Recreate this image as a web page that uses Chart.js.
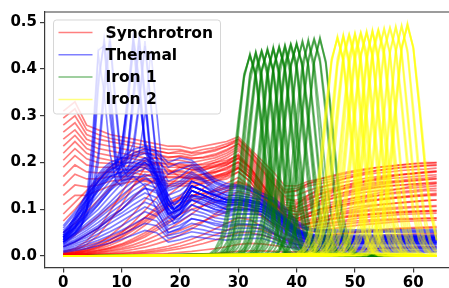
<!DOCTYPE html>
<html><head><meta charset="utf-8">
<script src="https://cdn.jsdelivr.net/npm/chart.js@4.4.1/dist/chart.umd.min.js"></script>
<style>html,body{margin:0;padding:0;background:#fff;overflow:hidden}</style>
</head><body>
<canvas id="c" width="449" height="288" style="display:block;width:449px;height:288px"></canvas>
<script>
const seriesNames = ['Synchrotron', 'Thermal', 'Iron 1', 'Iron 2'];
const xTickValues = [0, 10, 20, 30, 40, 50, 60];
const yTickValues = [0, 0.1, 0.2, 0.3, 0.4, 0.5];
const gridX = [0,2,4,6,8,10,12,14,16,18,20,22,24,26,28,30,32,34,36,38,40,42,44,46,48,50,52,54,56,58,60,62,64];
const spikeX = [0,1,2,3,4,5,6,7,8,9,10,11,12,13,14,15,16,17,18,19,20,22,24,26,28,30,32,34,36,38,40,42,44,46,48,50,52,54,56,58,60,62,64];

const synchrotronLines = [
 [0.31,0.33,0.28,0.27,0.26,0.255,0.25,0.245,0.24,0.235,0.235,0.23,0.235,0.24,0.245,0.255,0.23,0.205,0.18,0.15,0.15,0.16,0.165,0.17,0.175,0.18,0.185,0.19,0.192,0.195,0.198,0.2,0.2],
 [0.295,0.315,0.27,0.26,0.252,0.247,0.242,0.237,0.232,0.228,0.228,0.222,0.228,0.232,0.24,0.25,0.225,0.198,0.17,0.142,0.145,0.155,0.16,0.165,0.17,0.175,0.18,0.184,0.186,0.189,0.191,0.193,0.194],
 [0.28,0.3,0.26,0.25,0.245,0.24,0.235,0.23,0.225,0.22,0.22,0.215,0.22,0.225,0.235,0.245,0.22,0.19,0.16,0.135,0.14,0.15,0.155,0.16,0.165,0.17,0.175,0.178,0.18,0.183,0.185,0.186,0.188],
 [0.265,0.285,0.25,0.24,0.235,0.23,0.225,0.22,0.218,0.212,0.212,0.208,0.212,0.218,0.228,0.24,0.215,0.185,0.155,0.128,0.13,0.14,0.148,0.152,0.158,0.162,0.167,0.17,0.173,0.175,0.177,0.179,0.181],
 [0.25,0.27,0.24,0.23,0.225,0.22,0.215,0.21,0.21,0.205,0.205,0.2,0.205,0.21,0.22,0.235,0.21,0.18,0.15,0.12,0.12,0.13,0.14,0.145,0.15,0.155,0.16,0.163,0.166,0.168,0.17,0.172,0.174],
 [0.235,0.258,0.23,0.22,0.215,0.21,0.208,0.203,0.2,0.198,0.198,0.193,0.198,0.205,0.215,0.23,0.205,0.175,0.145,0.115,0.112,0.122,0.132,0.138,0.143,0.148,0.152,0.155,0.158,0.16,0.162,0.164,0.166],
 [0.22,0.245,0.22,0.21,0.205,0.2,0.2,0.195,0.195,0.19,0.19,0.185,0.19,0.2,0.21,0.225,0.2,0.17,0.14,0.11,0.105,0.115,0.125,0.13,0.135,0.14,0.145,0.148,0.15,0.152,0.154,0.156,0.158],
 [0.205,0.23,0.208,0.2,0.198,0.193,0.192,0.188,0.187,0.183,0.183,0.178,0.183,0.192,0.202,0.218,0.195,0.165,0.135,0.105,0.1,0.108,0.118,0.123,0.128,0.133,0.137,0.14,0.142,0.144,0.146,0.148,0.15],
 [0.19,0.215,0.195,0.19,0.19,0.185,0.185,0.18,0.18,0.175,0.175,0.17,0.175,0.185,0.195,0.21,0.19,0.16,0.13,0.1,0.095,0.1,0.11,0.115,0.12,0.125,0.128,0.13,0.133,0.135,0.137,0.14,0.14],
 [0.17,0.195,0.18,0.178,0.18,0.178,0.178,0.173,0.172,0.168,0.168,0.165,0.17,0.178,0.188,0.202,0.182,0.152,0.122,0.095,0.088,0.093,0.1,0.105,0.11,0.115,0.118,0.12,0.123,0.125,0.127,0.129,0.13],
 [0.15,0.175,0.165,0.165,0.17,0.17,0.17,0.165,0.165,0.16,0.16,0.16,0.165,0.17,0.18,0.195,0.175,0.145,0.115,0.09,0.08,0.085,0.09,0.095,0.1,0.105,0.108,0.11,0.112,0.114,0.116,0.118,0.12],
 [0.13,0.152,0.148,0.152,0.16,0.163,0.165,0.162,0.16,0.155,0.155,0.155,0.16,0.165,0.172,0.188,0.168,0.138,0.108,0.084,0.074,0.078,0.083,0.088,0.092,0.096,0.099,0.101,0.103,0.105,0.106,0.107,0.108],
 [0.11,0.13,0.13,0.14,0.15,0.155,0.16,0.16,0.155,0.15,0.15,0.15,0.155,0.16,0.165,0.18,0.16,0.13,0.1,0.078,0.068,0.07,0.075,0.08,0.083,0.086,0.088,0.09,0.092,0.094,0.095,0.096,0.097],
 [0.09,0.115,0.14,0.165,0.19,0.205,0.22,0.228,0.225,0.22,0.225,0.22,0.222,0.228,0.235,0.25,0.225,0.195,0.165,0.138,0.14,0.155,0.165,0.172,0.178,0.183,0.187,0.19,0.193,0.195,0.197,0.198,0.2],
 [0.075,0.1,0.13,0.16,0.185,0.2,0.215,0.22,0.215,0.21,0.215,0.21,0.21,0.215,0.225,0.24,0.215,0.185,0.155,0.125,0.115,0.125,0.135,0.14,0.145,0.15,0.155,0.158,0.16,0.162,0.165,0.167,0.17],
 [0.05,0.07,0.095,0.12,0.145,0.165,0.185,0.195,0.2,0.195,0.195,0.19,0.19,0.195,0.2,0.215,0.19,0.155,0.12,0.09,0.08,0.09,0.1,0.105,0.11,0.115,0.12,0.122,0.125,0.127,0.13,0.132,0.134],
 [0.03,0.045,0.065,0.085,0.105,0.125,0.15,0.17,0.18,0.18,0.18,0.175,0.175,0.18,0.185,0.2,0.175,0.14,0.105,0.075,0.065,0.07,0.075,0.08,0.085,0.088,0.09,0.092,0.094,0.095,0.096,0.097,0.098],
 [0.02,0.03,0.045,0.06,0.08,0.1,0.125,0.15,0.165,0.17,0.17,0.168,0.168,0.172,0.178,0.19,0.168,0.132,0.098,0.07,0.06,0.062,0.066,0.07,0.073,0.075,0.077,0.078,0.079,0.08,0.08,0.081,0.081],
 [0.008,0.016,0.032,0.058,0.095,0.135,0.175,0.205,0.21,0.2,0.19,0.185,0.185,0.19,0.195,0.21,0.188,0.155,0.125,0.1,0.095,0.11,0.125,0.135,0.145,0.153,0.16,0.165,0.17,0.174,0.177,0.18,0.182],
 [0.006,0.012,0.025,0.045,0.075,0.11,0.15,0.19,0.2,0.185,0.17,0.165,0.165,0.17,0.175,0.19,0.17,0.14,0.11,0.085,0.075,0.085,0.095,0.105,0.115,0.12,0.125,0.13,0.135,0.138,0.14,0.143,0.145],
 [0.005,0.009,0.016,0.027,0.043,0.064,0.09,0.12,0.15,0.175,0.19,0.195,0.195,0.2,0.205,0.215,0.19,0.155,0.12,0.09,0.08,0.09,0.1,0.11,0.118,0.125,0.13,0.135,0.14,0.145,0.15,0.152,0.155],
 [0.004,0.008,0.013,0.021,0.034,0.05,0.072,0.098,0.125,0.15,0.17,0.182,0.188,0.192,0.198,0.208,0.185,0.15,0.115,0.085,0.076,0.084,0.092,0.1,0.106,0.112,0.116,0.12,0.123,0.126,0.128,0.13,0.132],
 [0.004,0.007,0.011,0.018,0.028,0.042,0.06,0.082,0.105,0.13,0.15,0.165,0.175,0.18,0.19,0.2,0.18,0.145,0.11,0.08,0.07,0.075,0.08,0.085,0.09,0.093,0.096,0.098,0.1,0.102,0.104,0.105,0.106],
 [0.003,0.006,0.01,0.015,0.023,0.034,0.048,0.066,0.086,0.108,0.128,0.145,0.158,0.167,0.175,0.188,0.168,0.135,0.102,0.074,0.064,0.068,0.073,0.078,0.082,0.085,0.088,0.09,0.092,0.093,0.094,0.095,0.096],
 [0.003,0.005,0.008,0.012,0.018,0.026,0.037,0.05,0.066,0.084,0.104,0.125,0.145,0.16,0.17,0.18,0.16,0.125,0.095,0.068,0.058,0.062,0.068,0.072,0.076,0.08,0.083,0.085,0.087,0.089,0.09,0.091,0.092],
 [0.002,0.004,0.006,0.01,0.015,0.021,0.03,0.041,0.055,0.07,0.088,0.108,0.126,0.143,0.156,0.168,0.15,0.118,0.088,0.064,0.054,0.057,0.061,0.065,0.068,0.071,0.073,0.075,0.077,0.078,0.079,0.08,0.081],
 [0.002,0.003,0.005,0.008,0.012,0.017,0.024,0.033,0.044,0.057,0.073,0.09,0.108,0.125,0.14,0.155,0.14,0.11,0.082,0.058,0.048,0.05,0.054,0.058,0.062,0.065,0.068,0.07,0.072,0.074,0.075,0.076,0.077],
 [0.002,0.003,0.004,0.005,0.007,0.01,0.014,0.019,0.026,0.034,0.045,0.058,0.073,0.09,0.106,0.12,0.11,0.088,0.066,0.047,0.038,0.04,0.043,0.046,0.049,0.052,0.054,0.056,0.058,0.06,0.061,0.062,0.063],
 [0.001,0.002,0.003,0.004,0.005,0.007,0.009,0.012,0.016,0.021,0.028,0.036,0.046,0.058,0.07,0.082,0.078,0.064,0.05,0.036,0.03,0.032,0.034,0.036,0.038,0.04,0.042,0.044,0.045,0.046,0.047,0.048,0.049],
 [0.001,0.001,0.002,0.003,0.004,0.005,0.007,0.009,0.012,0.016,0.021,0.028,0.036,0.045,0.055,0.066,0.064,0.056,0.047,0.038,0.034,0.037,0.041,0.044,0.047,0.05,0.052,0.054,0.056,0.058,0.059,0.06,0.061],
 [0.001,0.001,0.002,0.002,0.003,0.004,0.005,0.007,0.009,0.012,0.016,0.021,0.027,0.034,0.042,0.05,0.05,0.045,0.038,0.03,0.025,0.027,0.03,0.032,0.034,0.036,0.038,0.04,0.041,0.042,0.043,0.044,0.045],
 [0.001,0.001,0.001,0.001,0.002,0.002,0.003,0.004,0.005,0.006,0.008,0.01,0.013,0.016,0.02,0.025,0.027,0.026,0.023,0.02,0.018,0.019,0.021,0.023,0.025,0.027,0.028,0.03,0.031,0.032,0.033,0.034,0.035],
 [0,0,0.001,0.001,0.001,0.001,0.002,0.002,0.002,0.003,0.003,0.004,0.005,0.006,0.008,0.01,0.011,0.011,0.01,0.009,0.009,0.01,0.011,0.012,0.013,0.014,0.015,0.016,0.017,0.018,0.019,0.02,0.02],
 [0.01,0.015,0.022,0.03,0.04,0.052,0.066,0.082,0.1,0.115,0.125,0.13,0.135,0.14,0.148,0.16,0.15,0.13,0.11,0.1,0.11,0.13,0.145,0.155,0.165,0.172,0.178,0.183,0.187,0.19,0.192,0.194,0.195],
 [0.006,0.01,0.016,0.024,0.034,0.046,0.06,0.076,0.094,0.11,0.122,0.128,0.133,0.138,0.145,0.158,0.148,0.128,0.108,0.095,0.105,0.12,0.132,0.142,0.15,0.157,0.162,0.167,0.171,0.174,0.176,0.178,0.18],
 [0.004,0.007,0.012,0.019,0.028,0.04,0.055,0.072,0.09,0.105,0.115,0.12,0.125,0.13,0.138,0.15,0.14,0.12,0.1,0.085,0.09,0.105,0.118,0.128,0.136,0.143,0.148,0.152,0.156,0.159,0.161,0.163,0.165],
 [0.003,0.005,0.008,0.012,0.017,0.024,0.033,0.045,0.06,0.075,0.09,0.1,0.108,0.115,0.125,0.138,0.13,0.112,0.094,0.08,0.085,0.1,0.113,0.123,0.131,0.138,0.143,0.147,0.15,0.152,0.154,0.155,0.156],
 [0.002,0.003,0.005,0.007,0.01,0.014,0.019,0.026,0.035,0.045,0.055,0.065,0.075,0.085,0.095,0.105,0.1,0.085,0.07,0.058,0.06,0.07,0.08,0.088,0.095,0.1,0.105,0.109,0.112,0.115,0.117,0.119,0.12]
];

const thermalLines = [
 [0.065,0.095,0.13,0.16,0.19,0.21,0.228,0.235,0.225,0.2,0.21,0.205,0.185,0.165,0.155,0.152,0.148,0.135,0.125,0.105,0.075,0.06,0.056,0.056,0.057,0.056,0.057,0.056,0.057,0.056,0.057,0.056,0.057],
 [0.06,0.09,0.12,0.15,0.18,0.2,0.22,0.23,0.22,0.19,0.2,0.2,0.18,0.16,0.15,0.15,0.145,0.13,0.12,0.1,0.07,0.058,0.055,0.055,0.054,0.055,0.054,0.055,0.054,0.055,0.054,0.055,0.054],
 [0.055,0.08,0.11,0.14,0.17,0.195,0.215,0.225,0.21,0.175,0.185,0.195,0.178,0.158,0.148,0.148,0.142,0.128,0.118,0.095,0.068,0.056,0.052,0.052,0.053,0.052,0.053,0.052,0.053,0.052,0.053,0.052,0.053],
 [0.05,0.07,0.1,0.13,0.16,0.19,0.21,0.22,0.2,0.16,0.17,0.19,0.175,0.155,0.145,0.145,0.14,0.13,0.115,0.09,0.065,0.055,0.05,0.05,0.052,0.05,0.051,0.05,0.052,0.05,0.051,0.05,0.05],
 [0.045,0.065,0.09,0.12,0.15,0.18,0.2,0.21,0.195,0.15,0.16,0.18,0.165,0.15,0.14,0.14,0.135,0.125,0.105,0.085,0.06,0.048,0.045,0.045,0.046,0.045,0.046,0.045,0.046,0.045,0.046,0.045,0.046],
 [0.042,0.062,0.088,0.115,0.145,0.175,0.195,0.205,0.19,0.145,0.155,0.175,0.162,0.145,0.135,0.135,0.13,0.122,0.102,0.082,0.058,0.047,0.044,0.043,0.044,0.043,0.044,0.043,0.044,0.043,0.044,0.043,0.044],
 [0.04,0.06,0.085,0.11,0.14,0.17,0.19,0.2,0.185,0.14,0.15,0.17,0.16,0.14,0.13,0.13,0.125,0.12,0.1,0.08,0.055,0.045,0.042,0.04,0.041,0.042,0.04,0.041,0.04,0.042,0.041,0.04,0.04],
 [0.038,0.055,0.078,0.1,0.128,0.155,0.175,0.188,0.175,0.13,0.14,0.16,0.15,0.132,0.122,0.125,0.12,0.115,0.095,0.075,0.052,0.042,0.038,0.037,0.038,0.037,0.038,0.037,0.038,0.037,0.038,0.037,0.038],
 [0.035,0.05,0.07,0.09,0.115,0.14,0.16,0.175,0.165,0.12,0.13,0.15,0.14,0.125,0.115,0.12,0.115,0.11,0.09,0.07,0.05,0.04,0.036,0.035,0.034,0.035,0.034,0.035,0.034,0.035,0.034,0.035,0.034],
 [0.032,0.048,0.065,0.085,0.108,0.13,0.15,0.165,0.155,0.11,0.12,0.14,0.13,0.118,0.108,0.112,0.108,0.105,0.085,0.065,0.046,0.037,0.033,0.032,0.033,0.032,0.033,0.032,0.033,0.032,0.033,0.032,0.033],
 [0.03,0.045,0.06,0.08,0.1,0.12,0.14,0.155,0.145,0.1,0.11,0.13,0.12,0.11,0.1,0.105,0.1,0.1,0.08,0.06,0.042,0.034,0.03,0.03,0.03,0.031,0.03,0.03,0.031,0.03,0.03,0.031,0.03],
 [0.03,0.05,0.08,0.11,0.14,0.16,0.17,0.15,0.1,0.05,0.06,0.08,0.075,0.07,0.065,0.07,0.068,0.065,0.05,0.035,0.025,0.02,0.018,0.018,0.017,0.018,0.017,0.018,0.017,0.018,0.017,0.018,0.017],
 [0.028,0.04,0.055,0.072,0.092,0.11,0.13,0.145,0.135,0.09,0.1,0.12,0.11,0.1,0.092,0.098,0.095,0.095,0.075,0.055,0.038,0.031,0.027,0.027,0.028,0.027,0.028,0.027,0.028,0.027,0.028,0.027,0.028],
 [0.025,0.035,0.05,0.065,0.085,0.1,0.12,0.135,0.125,0.08,0.09,0.11,0.1,0.09,0.085,0.09,0.09,0.09,0.07,0.05,0.035,0.028,0.025,0.025,0.026,0.025,0.025,0.026,0.025,0.025,0.026,0.025,0.025],
 [0.022,0.032,0.045,0.06,0.078,0.092,0.11,0.125,0.115,0.072,0.082,0.1,0.092,0.082,0.078,0.082,0.082,0.082,0.065,0.046,0.033,0.026,0.022,0.022,0.023,0.022,0.023,0.022,0.023,0.022,0.023,0.022,0.023],
 [0.02,0.03,0.045,0.06,0.08,0.1,0.125,0.145,0.14,0.09,0.1,0.12,0.11,0.1,0.095,0.1,0.098,0.095,0.075,0.055,0.038,0.03,0.027,0.027,0.028,0.027,0.028,0.027,0.028,0.027,0.028,0.027,0.028],
 [0.02,0.03,0.04,0.055,0.07,0.085,0.1,0.115,0.105,0.065,0.075,0.09,0.085,0.075,0.07,0.075,0.075,0.075,0.06,0.042,0.03,0.024,0.02,0.02,0.021,0.02,0.02,0.021,0.02,0.02,0.021,0.02,0.02],
 [0.018,0.026,0.035,0.048,0.06,0.075,0.09,0.105,0.095,0.058,0.066,0.08,0.075,0.066,0.062,0.067,0.067,0.067,0.054,0.038,0.027,0.021,0.017,0.017,0.018,0.017,0.018,0.017,0.018,0.017,0.018,0.017,0.018],
 [0.015,0.022,0.03,0.04,0.052,0.065,0.08,0.095,0.085,0.05,0.058,0.07,0.065,0.058,0.055,0.06,0.06,0.06,0.048,0.034,0.024,0.018,0.015,0.015,0.016,0.015,0.015,0.016,0.015,0.015,0.016,0.015,0.015],
 [0.012,0.018,0.025,0.034,0.044,0.055,0.068,0.082,0.075,0.044,0.05,0.06,0.056,0.05,0.048,0.052,0.053,0.053,0.042,0.03,0.021,0.015,0.013,0.012,0.013,0.012,0.013,0.012,0.013,0.012,0.013,0.012,0.013],
 [0.01,0.015,0.02,0.028,0.036,0.046,0.058,0.07,0.065,0.038,0.044,0.052,0.048,0.044,0.042,0.045,0.046,0.046,0.037,0.026,0.018,0.013,0.011,0.01,0.011,0.01,0.01,0.011,0.01,0.01,0.011,0.01,0.01],
 [0.008,0.012,0.016,0.022,0.028,0.036,0.045,0.055,0.05,0.03,0.035,0.042,0.039,0.036,0.034,0.037,0.038,0.038,0.03,0.021,0.015,0.011,0.009,0.008,0.009,0.008,0.009,0.008,0.009,0.008,0.009,0.008,0.009]
];

const thermalSpikeLines = [
 [0.03,0.04,0.05,0.065,0.09,0.17,0.36,0.465,0.37,0.22,0.17,0.18,0.19,0.2,0.2,0.19,0.175,0.15,0.12,0.1,0.11, 0.15,0.14,0.13,0.12,0.12,0.12,0.11,0.1,0.08,0.055,0.045,0.04,0.04,0.041,0.04,0.041,0.04,0.041,0.04,0.041,0.04,0.04],
 [0.04,0.05,0.06,0.08,0.12,0.25,0.44,0.45,0.3,0.19,0.16,0.17,0.18,0.19,0.19,0.18,0.16,0.13,0.1,0.08,0.09, 0.13,0.125,0.115,0.105,0.11,0.105,0.1,0.085,0.065,0.045,0.036,0.032,0.032,0.033,0.032,0.033,0.032,0.033,0.032,0.033,0.032,0.032],
 [0.035,0.045,0.06,0.075,0.1,0.14,0.22,0.37,0.47,0.33,0.2,0.18,0.19,0.2,0.21,0.2,0.18,0.16,0.13,0.11,0.12, 0.16,0.15,0.135,0.125,0.125,0.12,0.115,0.1,0.082,0.058,0.046,0.043,0.042,0.043,0.042,0.043,0.042,0.043,0.042,0.043,0.042,0.042],
 [0.025,0.035,0.045,0.06,0.1,0.22,0.43,0.35,0.22,0.16,0.15,0.16,0.17,0.17,0.17,0.16,0.14,0.11,0.085,0.07,0.08, 0.11,0.1,0.095,0.09,0.09,0.09,0.088,0.07,0.052,0.036,0.028,0.026,0.026,0.027,0.026,0.027,0.026,0.027,0.026,0.027,0.026,0.026],
 [0.035,0.045,0.055,0.07,0.1,0.2,0.38,0.455,0.33,0.2,0.165,0.175,0.185,0.195,0.195,0.185,0.17,0.14,0.11,0.095,0.1, 0.14,0.13,0.12,0.115,0.115,0.115,0.105,0.095,0.076,0.052,0.043,0.039,0.038,0.039,0.038,0.039,0.038,0.039,0.038,0.039,0.038,0.038],
 [0.03,0.04,0.05,0.065,0.085,0.12,0.2,0.34,0.46,0.31,0.19,0.17,0.18,0.19,0.2,0.19,0.17,0.15,0.12,0.1,0.11, 0.15,0.14,0.13,0.12,0.12,0.115,0.11,0.095,0.078,0.054,0.044,0.04,0.04,0.041,0.04,0.041,0.04,0.041,0.04,0.041,0.04,0.04],
 [0.04,0.055,0.075,0.095,0.115,0.135,0.155,0.17,0.18,0.19,0.22,0.33,0.47,0.38,0.25,0.2,0.17,0.13,0.1,0.09,0.1, 0.14,0.13,0.12,0.115,0.115,0.11,0.105,0.09,0.072,0.05,0.04,0.037,0.036,0.037,0.036,0.037,0.036,0.037,0.036,0.037,0.036,0.036],
 [0.045,0.06,0.08,0.1,0.125,0.145,0.165,0.18,0.19,0.2,0.2,0.23,0.34,0.465,0.35,0.22,0.18,0.14,0.11,0.1,0.11, 0.15,0.14,0.13,0.12,0.12,0.12,0.11,0.095,0.076,0.052,0.042,0.039,0.038,0.039,0.038,0.039,0.038,0.039,0.038,0.039,0.038,0.038],
 [0.035,0.05,0.065,0.085,0.105,0.125,0.145,0.16,0.17,0.175,0.18,0.21,0.32,0.45,0.33,0.2,0.16,0.12,0.09,0.08,0.09, 0.125,0.12,0.11,0.1,0.1,0.1,0.095,0.08,0.062,0.043,0.034,0.031,0.03,0.031,0.03,0.031,0.03,0.031,0.03,0.031,0.03,0.03],
 [0.05,0.065,0.085,0.11,0.135,0.155,0.175,0.19,0.2,0.205,0.21,0.21,0.24,0.33,0.46,0.33,0.21,0.16,0.12,0.11,0.12, 0.16,0.15,0.14,0.13,0.13,0.125,0.12,0.1,0.08,0.056,0.045,0.042,0.041,0.042,0.041,0.042,0.041,0.042,0.041,0.042,0.041,0.041],
 [0.03,0.045,0.06,0.08,0.1,0.12,0.14,0.155,0.165,0.17,0.2,0.31,0.455,0.36,0.23,0.18,0.15,0.115,0.09,0.08,0.09, 0.12,0.115,0.105,0.1,0.1,0.1,0.095,0.08,0.062,0.043,0.034,0.031,0.03,0.031,0.03,0.031,0.03,0.031,0.03,0.031,0.03,0.03],
 [0.04,0.055,0.075,0.095,0.12,0.14,0.16,0.175,0.185,0.19,0.195,0.2,0.2,0.22,0.3,0.44,0.31,0.18,0.12,0.1,0.11, 0.15,0.14,0.13,0.12,0.12,0.115,0.11,0.095,0.075,0.052,0.042,0.038,0.037,0.038,0.037,0.038,0.037,0.038,0.037,0.038,0.037,0.037],
 [0.045,0.06,0.08,0.1,0.12,0.14,0.16,0.175,0.185,0.195,0.23,0.34,0.465,0.37,0.24,0.19,0.16,0.125,0.095,0.085,0.095, 0.13,0.125,0.115,0.11,0.11,0.105,0.1,0.085,0.068,0.047,0.038,0.035,0.034,0.035,0.034,0.035,0.034,0.035,0.034,0.035,0.034,0.034],
 [0.04,0.055,0.07,0.09,0.11,0.13,0.15,0.165,0.175,0.185,0.19,0.22,0.35,0.47,0.34,0.21,0.17,0.13,0.1,0.09,0.1, 0.14,0.13,0.12,0.115,0.115,0.11,0.105,0.09,0.07,0.05,0.04,0.037,0.036,0.037,0.036,0.037,0.036,0.037,0.036,0.037,0.036,0.036],
 [0.035,0.05,0.065,0.085,0.105,0.125,0.145,0.16,0.17,0.175,0.18,0.185,0.22,0.32,0.45,0.32,0.2,0.15,0.11,0.095,0.105, 0.14,0.13,0.12,0.11,0.11,0.108,0.1,0.088,0.07,0.048,0.039,0.036,0.035,0.036,0.035,0.036,0.035,0.036,0.035,0.036,0.035,0.035],
 [0.05,0.065,0.085,0.105,0.13,0.15,0.17,0.185,0.195,0.2,0.24,0.32,0.44,0.34,0.24,0.2,0.175,0.14,0.11,0.1,0.11, 0.15,0.14,0.13,0.12,0.12,0.118,0.112,0.096,0.078,0.054,0.044,0.041,0.04,0.041,0.04,0.041,0.04,0.041,0.04,0.041,0.04,0.04]
];

// [first x of the peak segment, values at consecutive integer x]; zero elsewhere
const ironOneLines = [
 [25,[0.001,0.005,0.019,0.058,0.14,0.262,0.381,0.432,0.381,0.262,0.14,0.058,0.019,0.005,0.001]],
 [25,[0.004,0.014,0.04,0.094,0.183,0.293,0.39,0.428,0.39,0.293,0.183,0.094,0.04,0.014,0.004]],
 [25,[0.002,0.009,0.029,0.076,0.163,0.279,0.386,0.43,0.386,0.279,0.163,0.076,0.029,0.009,0.002]],
 [26,[0.001,0.005,0.019,0.059,0.142,0.265,0.386,0.437,0.386,0.265,0.142,0.059,0.019,0.005,0.001]],
 [26,[0,0.002,0.009,0.037,0.108,0.233,0.371,0.433,0.371,0.233,0.108,0.037,0.009,0.002,0]],
 [26,[0.002,0.009,0.029,0.077,0.164,0.282,0.39,0.434,0.39,0.282,0.164,0.077,0.029,0.009,0.002]],
 [27,[0.004,0.015,0.041,0.097,0.188,0.301,0.4,0.44,0.4,0.301,0.188,0.097,0.041,0.015,0.004]],
 [27,[0.001,0.005,0.019,0.059,0.142,0.264,0.385,0.436,0.385,0.264,0.142,0.059,0.019,0.005,0.001]],
 [27,[0.002,0.009,0.029,0.078,0.166,0.284,0.393,0.438,0.393,0.284,0.166,0.078,0.029,0.009,0.002]],
 [28,[0.001,0.005,0.019,0.06,0.144,0.269,0.392,0.444,0.392,0.269,0.144,0.06,0.019,0.005,0.001]],
 [28,[0.004,0.014,0.041,0.097,0.187,0.301,0.4,0.439,0.4,0.301,0.187,0.097,0.041,0.014,0.004]],
 [28,[0.002,0.009,0.03,0.078,0.167,0.286,0.396,0.441,0.396,0.286,0.167,0.078,0.03,0.009,0.002]],
 [29,[0,0.002,0.009,0.038,0.111,0.241,0.383,0.447,0.383,0.241,0.111,0.038,0.009,0.002,0]],
 [29,[0.001,0.005,0.019,0.06,0.144,0.269,0.391,0.443,0.391,0.269,0.144,0.06,0.019,0.005,0.001]],
 [29,[0.002,0.009,0.03,0.079,0.168,0.288,0.399,0.444,0.399,0.288,0.168,0.079,0.03,0.009,0.002]],
 [30,[0.001,0.005,0.02,0.061,0.146,0.272,0.396,0.449,0.396,0.272,0.146,0.061,0.02,0.005,0.001]],
 [30,[0.004,0.015,0.042,0.098,0.19,0.305,0.405,0.445,0.405,0.305,0.19,0.098,0.042,0.015,0.004]],
 [30,[0.002,0.009,0.03,0.079,0.169,0.289,0.4,0.446,0.4,0.289,0.169,0.079,0.03,0.009,0.002]],
 [31,[0.001,0.005,0.02,0.061,0.146,0.274,0.398,0.451,0.398,0.274,0.146,0.061,0.02,0.005,0.001]],
 [31,[0,0.002,0.009,0.038,0.111,0.24,0.382,0.446,0.382,0.24,0.111,0.038,0.009,0.002,0]],
 [31,[0.002,0.009,0.03,0.079,0.17,0.291,0.403,0.449,0.403,0.291,0.17,0.079,0.03,0.009,0.002]],
 [32,[0.004,0.015,0.043,0.1,0.194,0.311,0.413,0.454,0.413,0.311,0.194,0.1,0.043,0.015,0.004]],
 [32,[0.001,0.005,0.02,0.061,0.146,0.273,0.397,0.45,0.397,0.273,0.146,0.061,0.02,0.005,0.001]],
 [32,[0.002,0.009,0.03,0.08,0.171,0.293,0.406,0.452,0.406,0.293,0.171,0.08,0.03,0.009,0.002]],
 [33,[0.001,0.005,0.02,0.062,0.148,0.277,0.402,0.456,0.402,0.277,0.148,0.062,0.02,0.005,0.001]],
 [33,[0.004,0.015,0.042,0.099,0.193,0.31,0.411,0.452,0.411,0.31,0.193,0.099,0.042,0.015,0.004]],
 [33,[0.002,0.009,0.03,0.08,0.172,0.295,0.408,0.454,0.408,0.295,0.172,0.08,0.03,0.009,0.002]],
 [34,[0.001,0.005,0.02,0.062,0.149,0.279,0.406,0.46,0.406,0.279,0.149,0.062,0.02,0.005,0.001]],
 [34,[0.002,0.009,0.031,0.081,0.173,0.297,0.41,0.457,0.41,0.297,0.173,0.081,0.031,0.009,0.002]],
 [35,[0,0.002,0.01,0.039,0.115,0.249,0.396,0.462,0.396,0.249,0.115,0.039,0.01,0.002,0]],
 [35,[0.002,0.009,0.031,0.081,0.174,0.298,0.412,0.459,0.412,0.298,0.174,0.081,0.031,0.009,0.002]],
 [36,[0.005,0.015,0.044,0.102,0.199,0.319,0.423,0.465,0.423,0.319,0.199,0.102,0.044,0.015,0.005]],
 [36,[0.002,0.009,0.031,0.082,0.175,0.3,0.415,0.462,0.415,0.3,0.175,0.082,0.031,0.009,0.002]],
 [37,[0.001,0.005,0.021,0.063,0.152,0.283,0.412,0.467,0.412,0.283,0.152,0.063,0.021,0.005,0.001]],
 [37,[0.002,0.009,0.031,0.082,0.175,0.301,0.417,0.464,0.417,0.301,0.175,0.082,0.031,0.009,0.002]]
];

const ironTwoLines = [
 [40,[0.001,0.005,0.021,0.064,0.153,0.285,0.415,0.47,0.415,0.285,0.153,0.064,0.021,0.005,0.001]],
 [40,[0.005,0.015,0.044,0.102,0.199,0.319,0.423,0.465,0.423,0.319,0.199,0.102,0.044,0.015,0.005]],
 [40,[0.002,0.009,0.031,0.083,0.177,0.303,0.419,0.467,0.419,0.303,0.177,0.083,0.031,0.009,0.002]],
 [41,[0,0.002,0.01,0.04,0.118,0.255,0.405,0.473,0.405,0.255,0.118,0.04,0.01,0.002,0]],
 [41,[0.001,0.005,0.021,0.063,0.152,0.284,0.414,0.469,0.414,0.284,0.152,0.063,0.021,0.005,0.001]],
 [41,[0.002,0.009,0.031,0.083,0.178,0.306,0.423,0.471,0.423,0.306,0.178,0.083,0.031,0.009,0.002]],
 [42,[0.005,0.016,0.045,0.105,0.203,0.325,0.432,0.475,0.432,0.325,0.203,0.105,0.045,0.016,0.005]],
 [42,[0.001,0.005,0.021,0.064,0.153,0.285,0.415,0.47,0.415,0.285,0.153,0.064,0.021,0.005,0.001]],
 [42,[0.002,0.009,0.032,0.084,0.179,0.307,0.425,0.473,0.425,0.307,0.179,0.084,0.032,0.009,0.002]],
 [43,[0.001,0.005,0.021,0.065,0.155,0.289,0.421,0.477,0.421,0.289,0.155,0.065,0.021,0.005,0.001]],
 [43,[0,0.002,0.01,0.04,0.118,0.254,0.405,0.472,0.405,0.254,0.118,0.04,0.01,0.002,0]],
 [43,[0.002,0.01,0.032,0.084,0.18,0.308,0.427,0.475,0.427,0.308,0.18,0.084,0.032,0.01,0.002]],
 [44,[0.005,0.016,0.045,0.105,0.205,0.328,0.436,0.479,0.436,0.328,0.205,0.105,0.045,0.016,0.005]],
 [44,[0.001,0.005,0.021,0.064,0.154,0.287,0.418,0.474,0.418,0.287,0.154,0.064,0.021,0.005,0.001]],
 [44,[0.002,0.01,0.032,0.084,0.18,0.31,0.428,0.477,0.428,0.31,0.18,0.084,0.032,0.01,0.002]],
 [45,[0.001,0.005,0.021,0.065,0.156,0.292,0.424,0.481,0.424,0.292,0.156,0.065,0.021,0.005,0.001]],
 [45,[0.005,0.016,0.045,0.105,0.203,0.326,0.433,0.476,0.433,0.326,0.203,0.105,0.045,0.016,0.005]],
 [45,[0.002,0.01,0.032,0.085,0.181,0.311,0.43,0.479,0.43,0.311,0.181,0.085,0.032,0.01,0.002]],
 [46,[0,0.002,0.01,0.041,0.12,0.26,0.414,0.483,0.414,0.26,0.12,0.041,0.01,0.002,0]],
 [46,[0.001,0.005,0.021,0.065,0.156,0.291,0.423,0.479,0.423,0.291,0.156,0.065,0.021,0.005,0.001]],
 [46,[0.002,0.01,0.032,0.085,0.182,0.312,0.432,0.481,0.432,0.312,0.182,0.085,0.032,0.01,0.002]],
 [47,[0.005,0.016,0.046,0.107,0.207,0.332,0.441,0.485,0.441,0.332,0.207,0.107,0.046,0.016,0.005]],
 [47,[0.001,0.005,0.021,0.065,0.156,0.291,0.424,0.48,0.424,0.291,0.156,0.065,0.021,0.005,0.001]],
 [47,[0.002,0.01,0.032,0.085,0.183,0.313,0.434,0.483,0.434,0.313,0.183,0.085,0.032,0.01,0.002]],
 [48,[0.001,0.005,0.021,0.066,0.158,0.295,0.43,0.487,0.43,0.295,0.158,0.066,0.021,0.005,0.001]],
 [48,[0.002,0.01,0.032,0.086,0.183,0.315,0.436,0.485,0.436,0.315,0.183,0.086,0.032,0.01,0.002]],
 [49,[0.005,0.016,0.046,0.108,0.209,0.335,0.445,0.489,0.445,0.335,0.209,0.108,0.046,0.016,0.005]],
 [49,[0.002,0.01,0.033,0.086,0.184,0.316,0.437,0.487,0.437,0.316,0.184,0.086,0.033,0.01,0.002]],
 [50,[0.001,0.005,0.022,0.066,0.159,0.298,0.433,0.491,0.433,0.298,0.159,0.066,0.022,0.005,0.001]],
 [50,[0.002,0.01,0.033,0.087,0.185,0.317,0.439,0.489,0.439,0.317,0.185,0.087,0.033,0.01,0.002]],
 [51,[0.001,0.005,0.022,0.067,0.16,0.299,0.435,0.493,0.435,0.299,0.16,0.067,0.022,0.005]],
 [51,[0.002,0.01,0.033,0.087,0.186,0.319,0.441,0.491,0.441,0.319,0.186,0.087,0.033,0.01]],
 [52,[0.001,0.006,0.022,0.067,0.162,0.302,0.44,0.498,0.445,0.32,0.19,0.09,0.035]],
 [52,[0.005,0.016,0.046,0.108,0.21,0.337,0.448,0.492,0.448,0.337,0.21,0.108,0.046]],
 [52,[0.002,0.01,0.033,0.088,0.187,0.321,0.445,0.495,0.445,0.321,0.187,0.088,0.033]]
];

const lineColors = ['rgba(255,0,0,0.5)', 'rgba(0,0,255,0.5)', 'rgba(0,128,0,0.5)', 'rgba(255,255,0,0.5)'];
const lineWidths = [1.7, 1.7, 1.9, 1.9];
const xFirst = gridX[0], xLast = gridX[gridX.length - 1];

function onGrid(xs, ys) { return ys.map((y, i) => ({ x: xs[i], y: y })); }
function peak(start, vals) {
  const p = [];
  if (start > xFirst) p.push({ x: xFirst, y: 0 });
  vals.forEach((v, i) => p.push({ x: start + i, y: v }));
  if (start + vals.length - 1 < xLast) p.push({ x: xLast, y: 0 });
  return p;
}
function ds(points, s) {
  return { label: seriesNames[s], data: points, borderColor: lineColors[s], borderWidth: lineWidths[s],
    pointRadius: 0, fill: false, tension: 0, order: 4 - s };
}
const datasets = [];
synchrotronLines.forEach(l => datasets.push(ds(onGrid(gridX, l), 0)));
thermalLines.forEach(l => datasets.push(ds(onGrid(gridX, l), 1)));
thermalSpikeLines.forEach(l => datasets.push(ds(onGrid(spikeX, l), 1)));
ironOneLines.forEach(l => datasets.push(ds(peak(l[0], l[1]), 2)));
ironTwoLines.forEach(l => datasets.push(ds(peak(l[0], l[1]), 3)));

const FONT = { family: '"DejaVu Sans", sans-serif', weight: 'bold', size: 15 };
const AXIS = '#3a3a3a';

const framePlugin = {
  id: 'frame',
  afterDatasetsDraw(chart) {
    const { ctx, chartArea: a } = chart;
    ctx.save();
    ctx.strokeStyle = AXIS; ctx.lineWidth = 1.2;
    ctx.beginPath(); ctx.moveTo(a.left, a.top); ctx.lineTo(a.right, a.top); ctx.stroke();
    const bx = a.left + 9, by = a.top + 8, bw = 167, bh = 94;
    ctx.beginPath();
    ctx.roundRect(bx, by, bw, bh, 3);
    ctx.fillStyle = 'rgba(255,255,255,0.8)'; ctx.fill();
    ctx.strokeStyle = 'rgba(204,204,204,0.8)'; ctx.lineWidth = 1; ctx.stroke();
    ctx.font = 'bold 15.5px "DejaVu Sans"';
    ctx.textBaseline = 'middle'; ctx.textAlign = 'left';
    seriesNames.forEach((n, i) => {
      const y = by + 12.5 + i * 22.3;
      ctx.strokeStyle = lineColors[i]; ctx.lineWidth = 1.5;
      ctx.beginPath(); ctx.moveTo(bx + 5, y); ctx.lineTo(bx + 39, y); ctx.stroke();
      ctx.fillStyle = '#000';
      ctx.fillText(n, bx + 52, y + 1);
    });
    ctx.restore();
  }
};

new Chart(document.getElementById('c'), {
  type: 'line',
  data: { datasets },
  plugins: [framePlugin],
  options: {
    responsive: false, animation: false, events: [],
    layout: { padding: { top: 3, right: 0, left: 0, bottom: 0 } },
    plugins: { legend: { display: false }, tooltip: { enabled: false } },
    scales: {
      x: {
        type: 'linear', min: -3.22, max: 66.12,
        afterBuildTicks: ax => { ax.ticks = xTickValues.map(v => ({ value: v })); },
        afterFit: ax => { ax.height = 20; },
        grid: { drawOnChartArea: false, drawTicks: true, tickLength: 4.5, color: AXIS, lineWidth: 1.2 },
        border: { display: true, color: AXIS, width: 1.2 },
        ticks: { font: FONT, color: '#000', padding: 2, maxRotation: 0, autoSkip: false, callback: v => String(v) }
      },
      y: {
        type: 'linear', min: -0.0255, max: 0.5221,
        afterBuildTicks: ax => { ax.ticks = yTickValues.map(v => ({ value: v })); },
        afterFit: ax => { ax.width = 44.5; },
        grid: { drawOnChartArea: false, drawTicks: true, tickLength: 4.5, color: AXIS, lineWidth: 1.2 },
        border: { display: true, color: AXIS, width: 1.2 },
        ticks: { font: FONT, color: '#000', padding: 3, callback: v => v.toFixed(1) }
      }
    }
  }
});
</script>
</body></html>
